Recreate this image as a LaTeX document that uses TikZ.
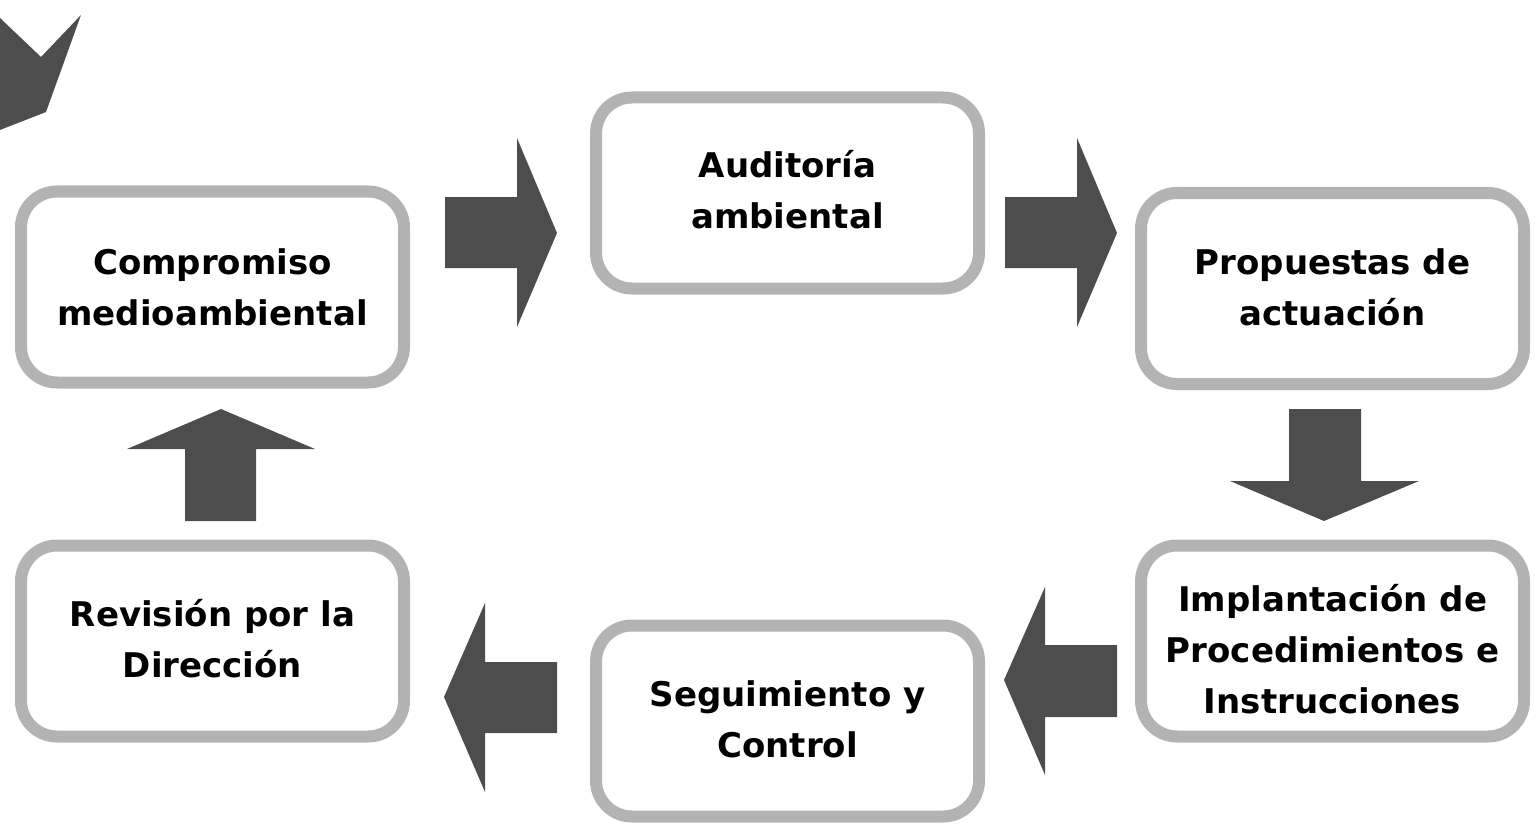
\documentclass[tikz,border=0pt]{standalone}
\usepackage{fontspec}
\setmainfont{DejaVu Sans}
\definecolor{arrowgray}{HTML}{4D4D4D}
\definecolor{boxgray}{HTML}{B3B3B3}
\begin{document}
\begin{tikzpicture}[x=1pt,y=-1pt,
  steptext/.style={align=center, inner sep=0pt, text=black,
    font=\bfseries\fontsize{34}{51}\selectfont},
  stepbox/.style={steptext, draw=boxgray, line width=12pt, fill=white, rounded corners=36pt,
    minimum width=383pt, minimum height=191pt},
  blockarrow/.style={fill=arrowgray, draw=none}]
\useasboundingbox (0,0) rectangle (1538,829);
% partial arrow at top-left
\fill[arrowgray] (0,18) -- (41,57) -- (81,15) -- (46,112) -- (0,130) -- cycle;
% boxes
\node[stepbox] (comp) at (212.5,287) {Compromiso\\medioambiental};
\node[stepbox] (aud) at (787.5,193) {};
\node[steptext] (audtext) at ([yshift=3pt]aud.center) {Auditoría\\ambiental};
\node[stepbox] (prop) at (1332.5,288.5) {};
\node[steptext] (proptext) at ([yshift=1.5pt]prop.center) {Propuestas de\\actuación};
\node[stepbox] (impl) at (1332.5,641) {};
\node[steptext] (impltext) at ([yshift=-8pt]impl.center) {Implantación de\\Procedimientos e\\Instrucciones};
\node[stepbox] (seg) at (787.5,721) {};
\node[steptext] (segtext) at ([yshift=2pt]seg.center) {Seguimiento y\\Control};
\node[stepbox] (rev) at (212.5,641) {};
\node[steptext] (revtext) at ([yshift=2pt]rev.center) {Revisión por la\\Dirección};
% block arrows
\fill[blockarrow] (445,197) -- (517,197) -- (517,138) -- (557,233) -- (517,327) -- (517,268) -- (445,268) -- cycle;
\fill[blockarrow] (1005,197) -- (1077,197) -- (1077,138) -- (1117,233) -- (1077,327) -- (1077,268) -- (1005,268) -- cycle;
\fill[blockarrow] (1289,409) -- (1361,409) -- (1361,481) -- (1419,481) -- (1324,521) -- (1230,481) -- (1289,481) -- cycle;
\fill[blockarrow] (1117,645) -- (1045,645) -- (1045,587) -- (1004,680) -- (1045,775) -- (1045,717) -- (1117,717) -- cycle;
\fill[blockarrow] (557,662) -- (485,662) -- (485,603) -- (444,697) -- (485,792) -- (485,733) -- (557,733) -- cycle;
\fill[blockarrow] (185,521) -- (185,449) -- (127,449) -- (221,409) -- (315,449) -- (256,449) -- (256,521) -- cycle;
\end{tikzpicture}
\end{document}
